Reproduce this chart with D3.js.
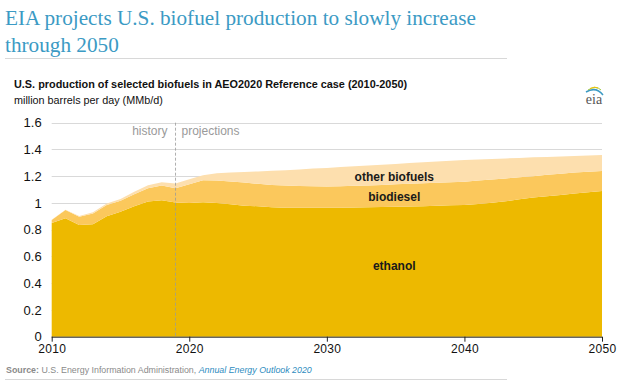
<!DOCTYPE html>
<html><head><meta charset="utf-8">
<script src="https://cdn.jsdelivr.net/npm/d3@7"></script>
<style>body{margin:0;background:#fff}svg{display:block}</style>
</head><body>
<svg id="c" width="639" height="380"></svg>
<script>
const years = [2010,2011,2012,2013,2014,2015,2016,2017,2018,2019,2020,2021,2022,2023,2024,2025,2026,2027,2028,2029,2030,2031,2032,2033,2034,2035,2036,2037,2038,2039,2040,2041,2042,2043,2044,2045,2046,2047,2048,2049,2050];
const ethanol = [0.85,0.885,0.835,0.84,0.90,0.935,0.975,1.01,1.02,1.003,1.0,1.005,1.0,0.99,0.98,0.975,0.968,0.965,0.965,0.965,0.965,0.965,0.966,0.967,0.969,0.971,0.973,0.976,0.979,0.982,0.985,0.993,1.002,1.013,1.027,1.04,1.05,1.06,1.07,1.08,1.09];
const biodiesel = [0.022,0.062,0.062,0.082,0.085,0.082,0.09,0.10,0.11,0.107,0.14,0.165,0.167,0.17,0.172,0.168,0.166,0.165,0.162,0.16,0.158,0.16,0.162,0.164,0.166,0.168,0.17,0.171,0.172,0.173,0.174,0.174,0.173,0.17,0.165,0.16,0.16,0.159,0.157,0.153,0.149];
const otherBiofuels = [0.002,0.003,0.005,0.008,0.01,0.013,0.018,0.022,0.025,0.035,0.038,0.038,0.055,0.068,0.08,0.093,0.106,0.115,0.124,0.132,0.139,0.143,0.146,0.149,0.151,0.153,0.155,0.157,0.159,0.161,0.162,0.158,0.154,0.15,0.145,0.141,0.134,0.129,0.124,0.122,0.119];
const yTicks = [0,0.2,0.4,0.6,0.8,1,1.2,1.4,1.6];
const xTicks = [2010,2020,2030,2040,2050];
const seriesKeys = ["ethanol","biodiesel","other"];
const seriesLabels = ["ethanol","biodiesel","other biofuels"];
const colors = ["#EDB900","#FBC85C","#FDDFAE"];
const historyEnd = 2019;

const svg = d3.select("#c");
const sans = "'Liberation Sans', Arial, sans-serif";

function fit(sel, w){
  const n = sel.node(); const L = n.getComputedTextLength();
  const fs = parseFloat(sel.attr("font-size"));
  sel.attr("font-size", (fs*w/L).toFixed(2));
}

// Title
const t1 = svg.append("text").attr("x",5).attr("y",25).attr("font-family","'Liberation Serif', 'Times New Roman', serif")
  .attr("font-size",26).attr("fill","#3B9AC4").text("EIA projects U.S. biofuel production to slowly increase");
fit(t1, 471);
svg.append("text").attr("x",5).attr("y",52).attr("font-family","'Liberation Serif', 'Times New Roman', serif")
  .attr("font-size",t1.attr("font-size")).attr("fill","#3B9AC4").text("through 2050");
svg.append("line").attr("x1",5).attr("x2",507).attr("y1",58.5).attr("y2",58.5).attr("stroke","#d8d8d8");

const s1 = svg.append("text").attr("x",14).attr("y",88).attr("font-family",sans).attr("font-weight","bold")
  .attr("font-size",12).attr("fill","#111").text("U.S. production of selected biofuels in AEO2020 Reference case (2010-2050)");
fit(s1, 393);
const s2 = svg.append("text").attr("x",14).attr("y",104).attr("font-family",sans)
  .attr("font-size",12).attr("fill","#111").text("million barrels per day (MMb/d)");
fit(s2, 149);

// eia logo
svg.append("text").attr("x",594).attr("y",104).attr("text-anchor","middle").attr("font-family","'Liberation Serif', serif")
  .attr("font-size",14).attr("fill","#555").text("eia");
svg.append("path").attr("d","M586,92 Q596,86 603,95").attr("fill","none").attr("stroke","#3B9AC4").attr("stroke-width",1.5);
svg.append("path").attr("d","M588,90 Q596,85 601,90").attr("fill","none").attr("stroke","#9BC53D").attr("stroke-width",1);
svg.append("path").attr("d","M590,88.5 Q595,86 598,88").attr("fill","none").attr("stroke","#F2C200").attr("stroke-width",1);

const x = d3.scaleLinear().domain([2010,2050]).range([51.7,602]);
const y = d3.scaleLinear().domain([0,1.6]).range([336.7,122.7]);

// grid
svg.append("g").selectAll("line").data(yTicks.filter(d=>d>0)).join("line")
  .attr("x1",51.7).attr("x2",602).attr("y1",d=>Math.round(y(d))+0.5).attr("y2",d=>Math.round(y(d))+0.5)
  .attr("stroke","#d9d9d9").attr("stroke-width",1);

// stack
const table = years.map((yr,i)=>({year:yr, ethanol:ethanol[i], biodiesel:biodiesel[i], other:otherBiofuels[i]}));
const stacked = d3.stack().keys(seriesKeys)(table);
const area = d3.area().x(d=>x(d.data.year)).y0(d=>y(d[0])).y1(d=>y(d[1]));
svg.append("g").selectAll("path").data(stacked).join("path")
  .attr("d",area).attr("fill",(d,i)=>colors[i]);

// history/projection divider
svg.append("line").attr("x1",x(historyEnd)).attr("x2",x(historyEnd)).attr("y1",122.7).attr("y2",336.7)
  .attr("stroke","#999").attr("stroke-dasharray","3,2").attr("stroke-width",0.8);
svg.append("text").attr("x",x(historyEnd)-8).attr("y",135).attr("text-anchor","end").attr("font-family",sans)
  .attr("font-size",12).attr("fill","#9a9a9a").text("history");
svg.append("text").attr("x",x(historyEnd)+6).attr("y",135).attr("font-family",sans)
  .attr("font-size",12).attr("fill","#9a9a9a").text("projections");

// axes
const yAxis = d3.axisLeft(y).tickValues(yTicks).tickSize(0).tickPadding(10).tickFormat(d=>d3.format("")(+d.toFixed(1)));
const gy = svg.append("g").attr("transform","translate(51.7,0)").call(yAxis);
gy.select(".domain").remove();
gy.selectAll("text").attr("font-family",sans).attr("font-size",13).attr("fill","#111");

const xAxis = d3.axisBottom(x).tickValues(xTicks).tickSize(5).tickPadding(3).tickFormat(d3.format("d"));
const gx = svg.append("g").attr("transform","translate(0,336.7)").call(xAxis);
gx.select(".domain").attr("stroke","#222").attr("d","M51.7,0.5H602");
gx.selectAll(".tick line").attr("stroke","#222");
gx.selectAll("text").attr("font-family",sans).attr("font-size",12).attr("fill","#111").attr("letter-spacing","0.3px");

// series labels
const labelPos = [{yr:2034.9, v:0.502},{yr:2034.9, v:1.015},{yr:2034.9, v:1.164}];
svg.append("g").selectAll("text").data(seriesLabels).join("text")
  .attr("x",(d,i)=>x(labelPos[i].yr)).attr("y",(d,i)=>y(labelPos[i].v)).attr("text-anchor","middle")
  .attr("font-family",sans).attr("font-weight","bold").attr("font-size",12).attr("fill","#1a1a1a").text(d=>d);

// source
const src = svg.append("text").attr("x",6).attr("y",373).attr("font-family",sans).attr("font-size",11.5).attr("fill","#8a8a8a");
src.append("tspan").attr("font-weight","bold").text("Source: ");
src.append("tspan").text("U.S. Energy Information Administration, ");
src.append("tspan").attr("font-style","italic").attr("fill","#2E8CC0").text("Annual Energy Outlook 2020");
fit(src, 306);
svg.append("line").attr("x1",5).attr("x2",507).attr("y1",379.5).attr("y2",379.5).attr("stroke","#d8d8d8");
</script>
</body></html>
